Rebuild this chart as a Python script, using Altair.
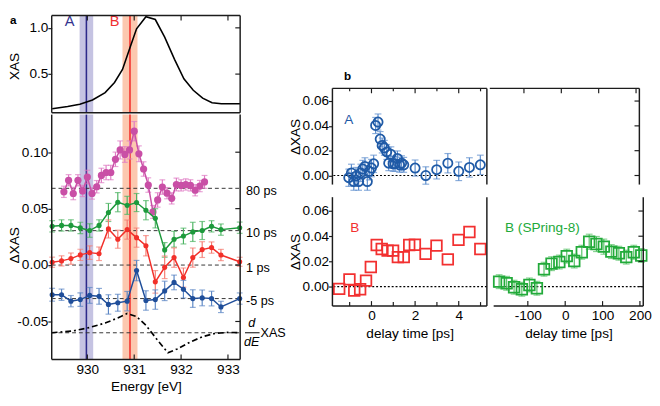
import altair as alt
import pandas as pd

FONT = "Liberation Sans"
FRAME = "#1c1c1c"

# ---------------- panel a : static XAS ----------------
xas_energy = [929.25, 929.58, 929.84, 930.11, 930.38, 930.58, 930.75, 930.92, 931.05,
              931.25, 931.45, 931.65, 931.86, 932.06, 932.26, 932.46, 932.66, 932.86, 933.26]
xas_value = [0.126, 0.15, 0.175, 0.22, 0.30, 0.41, 0.55, 0.80, 0.99,
             1.12, 1.09, 0.90, 0.66, 0.45, 0.325, 0.24, 0.19, 0.18, 0.18]

# ---------------- panel a : transient spectra ----------------
energy_fine = [929.5, 929.6, 929.7, 929.8, 929.9, 930.0, 930.1, 930.2, 930.3, 930.4,
               930.5, 930.6, 930.7, 930.8, 930.9, 931.0, 931.1, 931.2, 931.3, 931.4,
               931.5, 931.6, 931.7, 931.8, 931.9, 932.0, 932.1, 932.2, 932.3, 932.4, 932.5]
dxas_80ps = [0.0649, 0.0751, 0.0634, 0.0751, 0.0657, 0.0780, 0.0634, 0.0694, 0.0794, 0.0820,
             0.0820, 0.0937, 0.1020, 0.0980, 0.1020, 0.1186, 0.0986, 0.0851, 0.0709, 0.0471,
             0.0577, 0.0691, 0.0637, 0.0591, 0.0714, 0.0706, 0.0714, 0.0706, 0.0663, 0.0700, 0.0737]
err_80ps = [0.0050, 0.0050, 0.0055, 0.0050, 0.0050, 0.0060, 0.0050, 0.0055, 0.0064, 0.0064,
            0.0064, 0.0064, 0.0080, 0.0070, 0.0080, 0.0086, 0.0070, 0.0064, 0.0064, 0.0057,
            0.0064, 0.0064, 0.0050, 0.0050, 0.0057, 0.0050, 0.0050, 0.0050, 0.0050, 0.0050, 0.0057]

energy_coarse = [929.25, 929.45, 929.65, 929.85, 930.05, 930.25, 930.45, 930.65, 930.85, 931.05,
                 931.25, 931.45, 931.65, 931.85, 932.05, 932.25, 932.45, 932.65, 932.85, 933.25]
dxas_10ps = [0.0343, 0.0351, 0.0351, 0.0329, 0.0306, 0.0351, 0.0466, 0.0557, 0.0529, 0.0554,
             0.0486, 0.0414, 0.0134, 0.0229, 0.0257, 0.0294, 0.0306, 0.0343, 0.0314, 0.0331]
err_10ps = [0.005, 0.005, 0.005, 0.005, 0.006, 0.005, 0.008, 0.0085, 0.008, 0.008,
            0.0085, 0.0085, 0.0065, 0.007, 0.007, 0.0085, 0.008, 0.005, 0.005, 0.005]
dxas_1ps = [0.0025, 0.0037, 0.0057, 0.0090, 0.0110, 0.0100, 0.0320, 0.0229, 0.0314, 0.0243,
            0.0171, -0.0149, -0.0020, 0.0066, -0.0111, 0.0066, 0.0137, 0.0155, 0.0089, 0.0029]
err_1ps = [0.0045, 0.0045, 0.005, 0.005, 0.006, 0.006, 0.008, 0.008, 0.0085, 0.0085,
           0.009, 0.010, 0.010, 0.0086, 0.0085, 0.0085, 0.007, 0.005, 0.005, 0.004]
dxas_m5ps = [-0.0263, -0.0263, -0.0320, -0.0306, -0.0269, -0.0277, -0.0349, -0.0334, -0.0320, -0.0049,
             -0.0314, -0.0306, -0.0229, -0.0154, -0.0214, -0.0297, -0.0291, -0.0297, -0.0371, -0.0297]
err_m5ps = [0.0057, 0.005, 0.005, 0.006, 0.007, 0.007, 0.0086, 0.0075, 0.0086, 0.009,
            0.0086, 0.0086, 0.0086, 0.0065, 0.0078, 0.0078, 0.007, 0.0065, 0.005, 0.005]

deriv_energy = [929.24, 929.71, 930.04, 930.38, 930.65, 930.85, 931.05, 931.25,
                931.52, 931.72, 931.92, 932.19, 932.46, 932.72, 932.99, 933.26]
deriv_value = [-0.0600, -0.0583, -0.0554, -0.0514, -0.0469, -0.0429, -0.0457, -0.0534,
               -0.0677, -0.0777, -0.0743, -0.0683, -0.0634, -0.0606, -0.0597, -0.0600]

baseline_values = [0.068, 0.0305, 0.0, -0.0297, -0.060]
baseline_labels = ["80 ps", "10 ps", "1 ps", "-5 ps"]

band_names = ["A", "B"]
band_center = [929.98, 930.91]
band_halfwidth = [0.145, 0.16]
band_fill = ["#c5c3e2", "#fcc8af"]
band_line = ["#2d2a8a", "#f2302c"]
band_text_x = [929.62, 930.58]
band_text_color = ["#33338f", "#f03030"]

# ---------------- panel b ----------------
delay_A = [-1.04, -0.92, -0.81, -0.71, -0.59, -0.49, -0.40, -0.30, -0.19, -0.10, 0.00,
           0.10, 0.19, 0.30, 0.40, 0.49, 0.59, 0.70, 0.79, 0.89, 0.99, 1.08,
           1.19, 1.29, 1.38, 1.48, 2.00, 2.49, 2.99, 3.50, 4.00, 4.49, 4.99]
dxas_A = [-0.0018, 0.0021, -0.0049, -0.0005, -0.0049, 0.0021, 0.0052, 0.0073, -0.0049, 0.0034, 0.0060,
          0.0094, 0.0403, 0.0431, 0.0294, 0.0242, 0.0223, 0.0190, 0.0099, 0.0171, 0.0094, 0.0094,
          0.0138, 0.0086, 0.0099, 0.0086, 0.0060, 0.0000, 0.0047, 0.0099, 0.0034, 0.0065, 0.0086]
err_A = [0.007, 0.007, 0.007, 0.007, 0.007, 0.007, 0.007, 0.007, 0.007, 0.007, 0.007,
         0.007, 0.0065, 0.0065, 0.006, 0.006, 0.006, 0.006, 0.006, 0.006, 0.006, 0.006,
         0.006, 0.006, 0.006, 0.006, 0.0065, 0.007, 0.0075, 0.0078, 0.0075, 0.0078, 0.0078]

delay_B = [-1.48, -1.01, -0.79, -0.52, -0.25, -0.03, 0.24, 0.47, 0.74, 0.99,
           1.21, 1.48, 1.73, 1.99, 2.48, 2.98, 3.50, 3.99, 4.49, 4.99]
dxas_B = [-0.0018, 0.0057, -0.0031, -0.0021, 0.0047, 0.0156, 0.0330, 0.0299, 0.0286, 0.0286,
          0.0234, 0.0234, 0.0330, 0.0332, 0.0260, 0.0325, 0.0216, 0.0371, 0.0434, 0.0299]

delay_S8 = [-176.8, -156.7, -136.8, -116.0, -95.8, -75.7, -56.7, -36.6, -15.7, 4.2,
            24.3, 44.4, 64.2, 83.6, 103.4, 123.5, 143.6, 163.4, 183.5, 203.6]
dxas_S8 = [0.0039, 0.0026, -0.0005, -0.0021, 0.0013, -0.0013, 0.0138, 0.0182, 0.0195, 0.0242,
           0.0203, 0.0273, 0.0356, 0.0338, 0.0317, 0.0278, 0.0265, 0.0234, 0.0273, 0.0247]
err_S8 = [0.0055, 0.0055, 0.0055, 0.0055, 0.0055, 0.0055, 0.0055, 0.0055, 0.0055, 0.0055,
          0.0055, 0.0055, 0.006, 0.006, 0.006, 0.0055, 0.0055, 0.0055, 0.0055, 0.0055]

# tick values
a_xticks = [930, 931, 932, 933]
a_top_yticks = [0.5, 1.0]
a_bot_yticks = [-0.05, 0.0, 0.05, 0.10]
bl_major = [0, 2, 4]
bl_minor = [-1, 1, 3, 5]
br_major = [-100, 0, 100, 200]
b_yticks = [0.0, 0.02, 0.04, 0.06]

# ---------------- geometry ----------------
W_A, H_AT, H_AB = 194, 100, 252
W_BL, W_BR, H_BT, H_BB = 159, 154, 99, 112

XA = alt.Scale(domain=[929.24, 933.26], nice=False, zero=False)
YAT = alt.Scale(domain=[0.083, 1.133], nice=False, zero=False)
YAB = alt.Scale(domain=[-0.0836, 0.1333], nice=False, zero=False)
XBL = alt.Scale(domain=[-1.79, 5.29], nice=False, zero=False)
XBR = alt.Scale(domain=[-191.4, 208.9], nice=False, zero=False)
YBT = alt.Scale(domain=[-0.0073, 0.0702], nice=False, zero=False)
YBB = alt.Scale(domain=[-0.0154, 0.071], nice=False, zero=False)

DUMMY = pd.DataFrame({"k": [0]})
MINUS_FIX = "replace(format(datum.value, '{f}'), '\u2212', '-')"

# axes (the same object is used on every layer of a panel so that they merge)
AX_AT_Y = alt.Axis(values=a_top_yticks, format=".1f", title="XAS", titleX=-31, titleY=52,
                   tickSize=4, labelPadding=0, domain=False, grid=False)
AX_AB_Y = alt.Axis(values=a_bot_yticks, labelExpr=MINUS_FIX.format(f=".2f"), title="ΔXAS",
                   titleX=-31, titleY=134, tickSize=4, labelPadding=0, domain=False, grid=False)
AX_AB_X = alt.Axis(values=a_xticks, format="d", title="Energy [eV]", ticks=False, tickSize=0,
                   domain=False, labelPadding=4, titlePadding=3, grid=False)
AX_BT_Y = alt.Axis(values=b_yticks, format=".2f", title="ΔXAS", titleX=-31, titleY=H_BT / 2,
                   tickSize=4, labelPadding=0, domain=False, grid=False)
AX_BB_Y = alt.Axis(values=b_yticks, format=".2f", title="ΔXAS", titleX=-31, titleY=H_BB / 2,
                   tickSize=4, labelPadding=0, domain=False, grid=False)
AX_BL_X = alt.Axis(values=bl_major, format="d", title="delay time [ps]", ticks=False, tickSize=0,
                   domain=False, labelPadding=3, titlePadding=4, grid=False)
AX_BR_X = alt.Axis(values=br_major, labelExpr=MINUS_FIX.format(f="d"), title="delay time [ps]",
                   ticks=False, tickSize=0, domain=False, labelPadding=3, titlePadding=4, grid=False)


def X(field, sc, ax):
    return alt.X(field, scale=sc, axis=ax)


def Y(field, sc, ax):
    return alt.Y(field, scale=sc, axis=ax)


def edge(side, W, H, sw=1.5):
    ch = alt.Chart(DUMMY).mark_rule(color=FRAME, strokeWidth=sw)
    if side == "top":
        return ch.encode(x=alt.value(0), x2=alt.value(W), y=alt.value(0))
    if side == "bottom":
        return ch.encode(x=alt.value(0), x2=alt.value(W), y=alt.value(H))
    if side == "left":
        return ch.encode(x=alt.value(0), y=alt.value(0), y2=alt.value(H))
    return ch.encode(x=alt.value(W), y=alt.value(0), y2=alt.value(H))


def xticks_in(vals, xs, xa, H, L, side):
    ch = alt.Chart(pd.DataFrame({"t": vals})).mark_rule(color=FRAME, strokeWidth=1.2)
    if side == "top":
        return ch.encode(x=X("t:Q", xs, xa), y=alt.value(0), y2=alt.value(L))
    return ch.encode(x=X("t:Q", xs, xa), y=alt.value(H), y2=alt.value(H - L))


def yticks_in(vals, ys, ya, W, L):
    ch = alt.Chart(pd.DataFrame({"t": vals})).mark_rule(color=FRAME, strokeWidth=1.2)
    return ch.encode(y=Y("t:Q", ys, ya), x=alt.value(W), x2=alt.value(W - L))


def errbars(xv, yv, ev, xs, xa, ys, ya, color, cap):
    df = pd.DataFrame({"x": xv, "y": yv, "e": ev})
    df["lo"] = df["y"] - df["e"]
    df["hi"] = df["y"] + df["e"]
    base = alt.Chart(df)
    bar = base.mark_rule(color=color, strokeWidth=1.2).encode(
        x=X("x:Q", xs, xa), y=Y("lo:Q", ys, ya), y2="hi:Q")
    c1 = base.mark_tick(orient="horizontal", color=color, size=cap, thickness=1.2).encode(
        x=X("x:Q", xs, xa), y=Y("lo:Q", ys, ya))
    c2 = base.mark_tick(orient="horizontal", color=color, size=cap, thickness=1.2).encode(
        x=X("x:Q", xs, xa), y=Y("hi:Q", ys, ya))
    return [bar, c1, c2]


def a_series(xv, yv, ev, color, ecolor, size):
    df = pd.DataFrame({"x": xv, "y": yv})
    layers = errbars(xv, yv, ev, XA, AX_AB_X, YAB, AX_AB_Y, ecolor, 6)
    layers.append(alt.Chart(df).mark_line(color=color, strokeWidth=1.5).encode(
        x=X("x:Q", XA, AX_AB_X), y=Y("y:Q", YAB, AX_AB_Y)))
    layers.append(alt.Chart(df).mark_circle(color=color, size=size, opacity=1).encode(
        x=X("x:Q", XA, AX_AB_X), y=Y("y:Q", YAB, AX_AB_Y)))
    return layers


bands_df = pd.DataFrame({"name": band_names, "c": band_center, "h": band_halfwidth,
                         "fill": band_fill, "line": band_line})
bands_df["lo"] = bands_df["c"] - bands_df["h"]
bands_df["hi"] = bands_df["c"] + bands_df["h"]


def band_layers(xa):
    rect = alt.Chart(bands_df).mark_rect(opacity=1).encode(
        x=X("lo:Q", XA, xa), x2="hi:Q", color=alt.Color("fill:N", scale=None))
    line = alt.Chart(bands_df).mark_rule(strokeWidth=1.6).encode(
        x=X("c:Q", XA, xa), color=alt.Color("line:N", scale=None))
    return [rect, line]


# ---------------- a top ----------------
xas_df = pd.DataFrame({"e": xas_energy, "v": xas_value})
xas_line = alt.Chart(xas_df).mark_line(color="black", strokeWidth=1.6).encode(
    x=X("e:Q", XA, None), y=Y("v:Q", YAT, AX_AT_Y))
ab_df = pd.DataFrame({"x": band_text_x, "y": [1.07, 1.07], "label": band_names, "col": band_text_color})
ab_text = alt.Chart(ab_df).mark_text(font=FONT, fontSize=15, align="center", baseline="middle").encode(
    x=X("x:Q", XA, None), y=Y("y:Q", YAT, AX_AT_Y),
    text="label:N", color=alt.Color("col:N", scale=None))
a_label = alt.Chart(DUMMY).mark_text(text="a", font=FONT, fontSize=12, fontWeight="bold",
                                     align="left", baseline="top").encode(
    x=alt.value(-43), y=alt.value(0))

a_top = alt.layer(
    *band_layers(None), xas_line, ab_text, a_label,
    xticks_in(a_xticks, XA, None, H_AT, 5, "top"), yticks_in(a_top_yticks, YAT, AX_AT_Y, W_A, 5),
    edge("top", W_A, H_AT), edge("bottom", W_A, H_AT), edge("left", W_A, H_AT), edge("right", W_A, H_AT),
).properties(width=W_A, height=H_AT)

# ---------------- a bottom ----------------
base_df = pd.DataFrame({"y": baseline_values})
baselines = alt.Chart(base_df).mark_rule(color="#333333", strokeWidth=1, strokeDash=[4, 3]).encode(
    y=Y("y:Q", YAB, AX_AB_Y), x=alt.value(0), x2=alt.value(W_A))
deriv_df = pd.DataFrame({"e": deriv_energy, "v": deriv_value})
deriv_line = alt.Chart(deriv_df).mark_line(color="black", strokeWidth=1.7, strokeDash=[6, 3, 2, 3]).encode(
    x=X("e:Q", XA, AX_AB_X), y=Y("v:Q", YAB, AX_AB_Y))

lab_df = pd.DataFrame({"y": baseline_values[:4], "label": baseline_labels})
right_labels = alt.Chart(lab_df).mark_text(font=FONT, fontSize=13, align="left", baseline="middle", dy=3).encode(
    x=alt.value(W_A + 6), y=Y("y:Q", YAB, AX_AB_Y), text="label:N")
dd_df = pd.DataFrame({"y": [baseline_values[4]]})
d_top = alt.Chart(dd_df).mark_text(text="d", font=FONT, fontSize=13, fontStyle="italic",
                                   align="center", baseline="middle", dy=-10).encode(
    x=alt.value(W_A + 12), y=Y("y:Q", YAB, AX_AB_Y))
d_bot = alt.Chart(dd_df).mark_text(text="dE", font=FONT, fontSize=13, fontStyle="italic",
                                   align="center", baseline="middle", dy=10).encode(
    x=alt.value(W_A + 12), y=Y("y:Q", YAB, AX_AB_Y))
d_bar = alt.Chart(dd_df).mark_rule(color="black", strokeWidth=1).encode(
    x=alt.value(W_A + 5), x2=alt.value(W_A + 20), y=Y("y:Q", YAB, AX_AB_Y))
d_xas = alt.Chart(dd_df).mark_text(text="XAS", font=FONT, fontSize=13, align="left", baseline="middle").encode(
    x=alt.value(W_A + 21), y=Y("y:Q", YAB, AX_AB_Y))

a_bot = alt.layer(
    *band_layers(AX_AB_X), baselines, deriv_line,
    *a_series(energy_fine, dxas_80ps, err_80ps, "#c94fa6", "#e07cc4", 55),
    *a_series(energy_coarse, dxas_10ps, err_10ps, "#1d9a3c", "#4cb462", 28),
    *a_series(energy_coarse, dxas_1ps, err_1ps, "#f2302a", "#f57a70", 28),
    *a_series(energy_coarse, dxas_m5ps, err_m5ps, "#1f4e9a", "#5b86c4", 28),
    right_labels, d_top, d_bot, d_bar, d_xas,
    xticks_in(a_xticks, XA, AX_AB_X, H_AB, 5, "bottom"), yticks_in(a_bot_yticks, YAB, AX_AB_Y, W_A, 5),
    edge("bottom", W_A, H_AB), edge("left", W_A, H_AB), edge("right", W_A, H_AB),
).properties(width=W_A, height=H_AB)

a_col = alt.vconcat(a_top, a_bot, spacing=0)

# ---------------- b panels ----------------
zero_df = pd.DataFrame({"y": [0.0]})

# upper left: A
a_pts_df = pd.DataFrame({"x": delay_A, "y": dxas_A})
b_ul = alt.layer(
    alt.Chart(zero_df).mark_rule(color="black", strokeWidth=1.2, strokeDash=[2, 2]).encode(
        y=Y("y:Q", YBT, AX_BT_Y)),
    *errbars(delay_A, dxas_A, err_A, XBL, None, YBT, AX_BT_Y, "#5b8ccc", 7),
    alt.Chart(a_pts_df).mark_point(shape="circle", filled=False, color="#1f5aa6", size=90,
                                   strokeWidth=1.8, opacity=1).encode(
        x=X("x:Q", XBL, None), y=Y("y:Q", YBT, AX_BT_Y)),
    alt.Chart(pd.DataFrame({"x": [-1.04], "y": [0.0443], "t": ["A"]})).mark_text(
        font=FONT, fontSize=14, color="#1f5aa6", align="center", baseline="middle").encode(
        x=X("x:Q", XBL, None), y=Y("y:Q", YBT, AX_BT_Y), text="t:N"),
    xticks_in(bl_major, XBL, None, H_BT, 5, "top"), xticks_in(bl_minor, XBL, None, H_BT, 3, "top"),
    edge("top", W_BL, H_BT), edge("left", W_BL, H_BT), edge("right", W_BL, H_BT),
).properties(width=W_BL, height=H_BT)

# upper right: empty frame
b_ur = alt.layer(
    xticks_in(br_major, XBR, None, H_BT, 5, "top"), yticks_in(b_yticks, YBT, None, W_BR, 5),
    edge("top", W_BR, H_BT), edge("right", W_BR, H_BT),
).properties(width=W_BR, height=H_BT)

# lower left: B
b_pts_df = pd.DataFrame({"x": delay_B, "y": dxas_B})
b_ll = alt.layer(
    alt.Chart(zero_df).mark_rule(color="black", strokeWidth=1.2, strokeDash=[2, 2]).encode(
        y=Y("y:Q", YBB, AX_BB_Y)),
    alt.Chart(b_pts_df).mark_point(shape="square", filled=False, color="#f23030", size=120,
                                   strokeWidth=1.8, opacity=1).encode(
        x=X("x:Q", XBL, AX_BL_X), y=Y("y:Q", YBB, AX_BB_Y)),
    alt.Chart(pd.DataFrame({"x": [-0.76], "y": [0.0463], "t": ["B"]})).mark_text(
        font=FONT, fontSize=14, color="#f23030", align="center", baseline="middle").encode(
        x=X("x:Q", XBL, AX_BL_X), y=Y("y:Q", YBB, AX_BB_Y), text="t:N"),
    xticks_in(bl_major, XBL, AX_BL_X, H_BB, 5, "bottom"), xticks_in(bl_minor, XBL, AX_BL_X, H_BB, 4, "bottom"),
    edge("bottom", W_BL, H_BB), edge("left", W_BL, H_BB), edge("right", W_BL, H_BB),
).properties(width=W_BL, height=H_BB)

# lower right: SPring-8
s8_df = pd.DataFrame({"x": delay_S8, "y": dxas_S8})
b_lr = alt.layer(
    alt.Chart(zero_df).mark_rule(color="black", strokeWidth=1.2, strokeDash=[2, 2]).encode(
        y=Y("y:Q", YBB, None)),
    *errbars(delay_S8, dxas_S8, err_S8, XBR, AX_BR_X, YBB, None, "#55c065", 7),
    alt.Chart(s8_df).mark_point(shape="square", filled=False, color="#22aa3a", size=120,
                                strokeWidth=1.8, opacity=1).encode(
        x=X("x:Q", XBR, AX_BR_X), y=Y("y:Q", YBB, None)),
    alt.Chart(pd.DataFrame({"x": [-161.0], "y": [0.0463], "t": ["B (SPring-8)"]})).mark_text(
        font=FONT, fontSize=14, color="#22aa3a", align="left", baseline="middle").encode(
        x=X("x:Q", XBR, AX_BR_X), y=Y("y:Q", YBB, None), text="t:N"),
    xticks_in(br_major, XBR, AX_BR_X, H_BB, 5, "bottom"), yticks_in(b_yticks, YBB, None, W_BR, 5),
    edge("bottom", W_BR, H_BB), edge("right", W_BR, H_BB),
).properties(width=W_BR, height=H_BB)

spacer = alt.Chart(DUMMY).mark_text(text="b", font=FONT, fontSize=12, fontWeight="bold",
                                    align="left", baseline="top").encode(
    x=alt.value(12), y=alt.value(57)).properties(width=100, height=74)

top_row = alt.hconcat(b_ul, b_ur, spacing=0)
bot_row = alt.hconcat(b_ll, b_lr, spacing=0)
b_col = alt.vconcat(spacer, alt.vconcat(top_row, bot_row, spacing=5), spacing=0)

chart = alt.hconcat(a_col, b_col, spacing=2).properties(padding=0).configure_view(
    strokeWidth=0
).configure_axis(
    labelFont=FONT, titleFont=FONT, labelFontSize=14, titleFontSize=14,
    titleFontWeight="normal", labelColor="black", titleColor="black", grid=False,
    tickColor=FRAME, domainColor=FRAME, tickWidth=1.2
).configure_text(font=FONT)

chart.save("out.html", embed_options={"renderer": "svg", "actions": False})
